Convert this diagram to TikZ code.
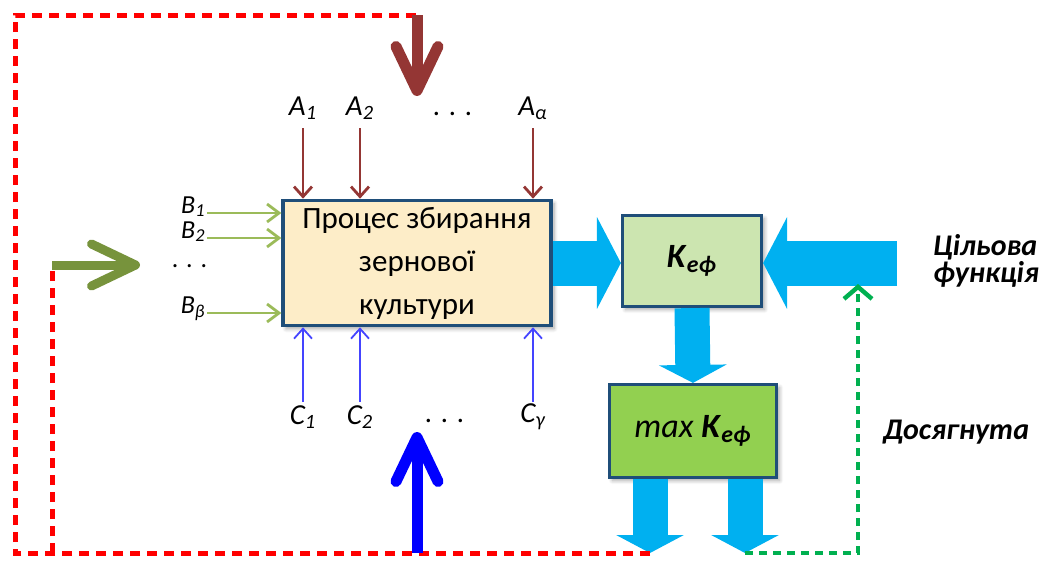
\documentclass[tikz,border=0pt]{standalone}
\usepackage{fontspec}
\setmainfont{Carlito}
\usetikzlibrary{arrows.meta,positioning,shadows.blur}
\definecolor{boxline}{HTML}{1F4E79}
\definecolor{procfill}{HTML}{FDEDC8}
\definecolor{keffill}{HTML}{CCE5B0}
\definecolor{maxfill}{HTML}{92D050}
\definecolor{brownA}{HTML}{943634}
\definecolor{oliveB}{HTML}{9BBB59}
\definecolor{oliveBig}{HTML}{77933C}
\definecolor{blueC}{HTML}{4444FF}
\definecolor{flow}{HTML}{00B0F0}
\definecolor{loopred}{HTML}{FF0000}
\definecolor{loopgreen}{HTML}{00B050}

\begin{document}
\begin{tikzpicture}[x=0.5pt, y=-0.5pt,
    blockbox/.style={draw=boxline, line width=1.6pt, align=center,
        blur shadow={shadow blur steps=6, shadow xshift=1.5pt, shadow yshift=-1.5pt, shadow opacity=35}},
    lbl/.style={font=\fontsize{14.5}{16}\selectfont\itshape, inner sep=1pt},
    blbl/.style={font=\fontsize{13}{14}\selectfont\itshape, inner sep=0.5pt},
    fat/.style={flow, line width=22.5pt, -{Triangle[width=45.5pt, length=12pt]}},
    fatdown/.style={flow, line width=17.5pt, -{Triangle[width=33.5pt, length=9pt]}},
    redloop/.style={loopred, line width=2.5pt, dash pattern=on 5pt off 3.5pt},
    greenloop/.style={loopgreen, line width=2pt, dash pattern=on 4pt off 3pt,
        -{Straight Barb[length=6pt, width=14pt, line width=2.2pt]}},
    bigtip/.style={line width=5.5pt, -{Straight Barb[round, length=22pt, width=21pt]}}]
  \useasboundingbox (0,0) rectangle (1048,562);

  % blocks
  \node[blockbox, fill=procfill, minimum width=134pt, minimum height=57pt,
        font=\fontsize{15.5}{21.5}\selectfont] (proc) at (417,263)
        {Процес збирання\\зернової\\культури};
  \node[blockbox, fill=keffill, minimum width=69.5pt, minimum height=45.5pt,
        font=\fontsize{17}{20}\selectfont] (keff) at (692,261)
        {\textbf{\textit{K}}\textsubscript{\textbf{\textit{еф}}}};
  \node[blockbox, fill=maxfill, minimum width=83.5pt, minimum height=46.5pt,
        font=\fontsize{17}{20}\selectfont] (maxk) at (693,431)
        {\textit{max} \textbf{\textit{K}}\textsubscript{\textbf{\textit{еф}}}};

  % inputs A (top) and C (bottom)
  \foreach \n/\x/\s in {1/303/1, 2/360/2, 3/533/α}{
    \node[lbl] (a\n) at (\x,108) {A\textsubscript{\s}};
    \draw[brownA, line width=1.4pt, -{Straight Barb[length=5pt, width=9pt]}]
          (a\n.south |- 0,128) -- (a\n.south |- proc.north);}
  \foreach \n/\x/\s in {1/303/1, 2/360/2, 3/533/γ}{
    \node[lbl] (c\n) at (\x,417) {C\textsubscript{\s}};
    \draw[blueC, line width=0.9pt, -{Straight Barb[length=5pt, width=9pt]}]
          (c\n.north |- 0,402) -- (c\n.north |- proc.south);}
  \node[lbl] (adots) at (453,114) {. . .};
  \node[lbl] (cdots) at (445,421) {. . .};

  % inputs B (left)
  \foreach \n/\y/\s in {1/213/1, 2/238/2, 3/313/β}{
    \node[blbl, anchor=base east] (b\n) at (207,\y) {B\textsubscript{\s}};
    \draw[oliveB, line width=1.4pt, -{Straight Barb[length=6pt, width=9pt]}]
          (b\n.base east) -- (b\n.base east -| proc.west);}
  \node[blbl] (bdots) at (190,266) {. . .};

  % flows between blocks
  \coordinate (goal) at (897,263);
  \coordinate (outl) at (650,553);
  \coordinate (outr) at (745,553);
  \draw[fat] (proc.east) -- (proc.east -| keff.west);
  \draw[fat] (goal) -- (goal -| keff.east);
  \draw[fatdown] (keff.south) -- (maxk.north);
  \draw[fatdown] (outl |- maxk.south) -- (outl);
  \draw[fatdown] (outr |- maxk.south) -- (outr);

  % feedback loops
  \coordinate (topin) at (417,15);
  \coordinate (topend) at (417,96);
  \coordinate (leftin) at (52,265);
  \coordinate (leftend) at (140,265);
  \coordinate (botin) at (417,553);
  \coordinate (botend) at (417,432);
  \coordinate (reach) at (858,284);
  \draw[redloop] (outl) -- (15,553) -- (15,15) -- (topin);
  \draw[redloop] (52,553) -- (leftin);
  \draw[bigtip, brownA] (topin) -- (topend);
  \draw[bigtip, oliveBig, line width=4.5pt] (leftin) -- (leftend);
  \draw[bigtip, blue] (botin) -- (botend);
  \draw[greenloop] (outr) -- (reach |- outr) -- (reach);

  % side notes
  \node[font=\fontsize{15}{12.5}\selectfont\bfseries\itshape, align=left, anchor=west]
        (goaltxt) at (926,261) {Цільова\\функція};
  \node[font=\fontsize{15}{15}\selectfont\bfseries\itshape, anchor=west]
        (reachtxt) at (876,432) {Досягнута};
\end{tikzpicture}
\end{document}
